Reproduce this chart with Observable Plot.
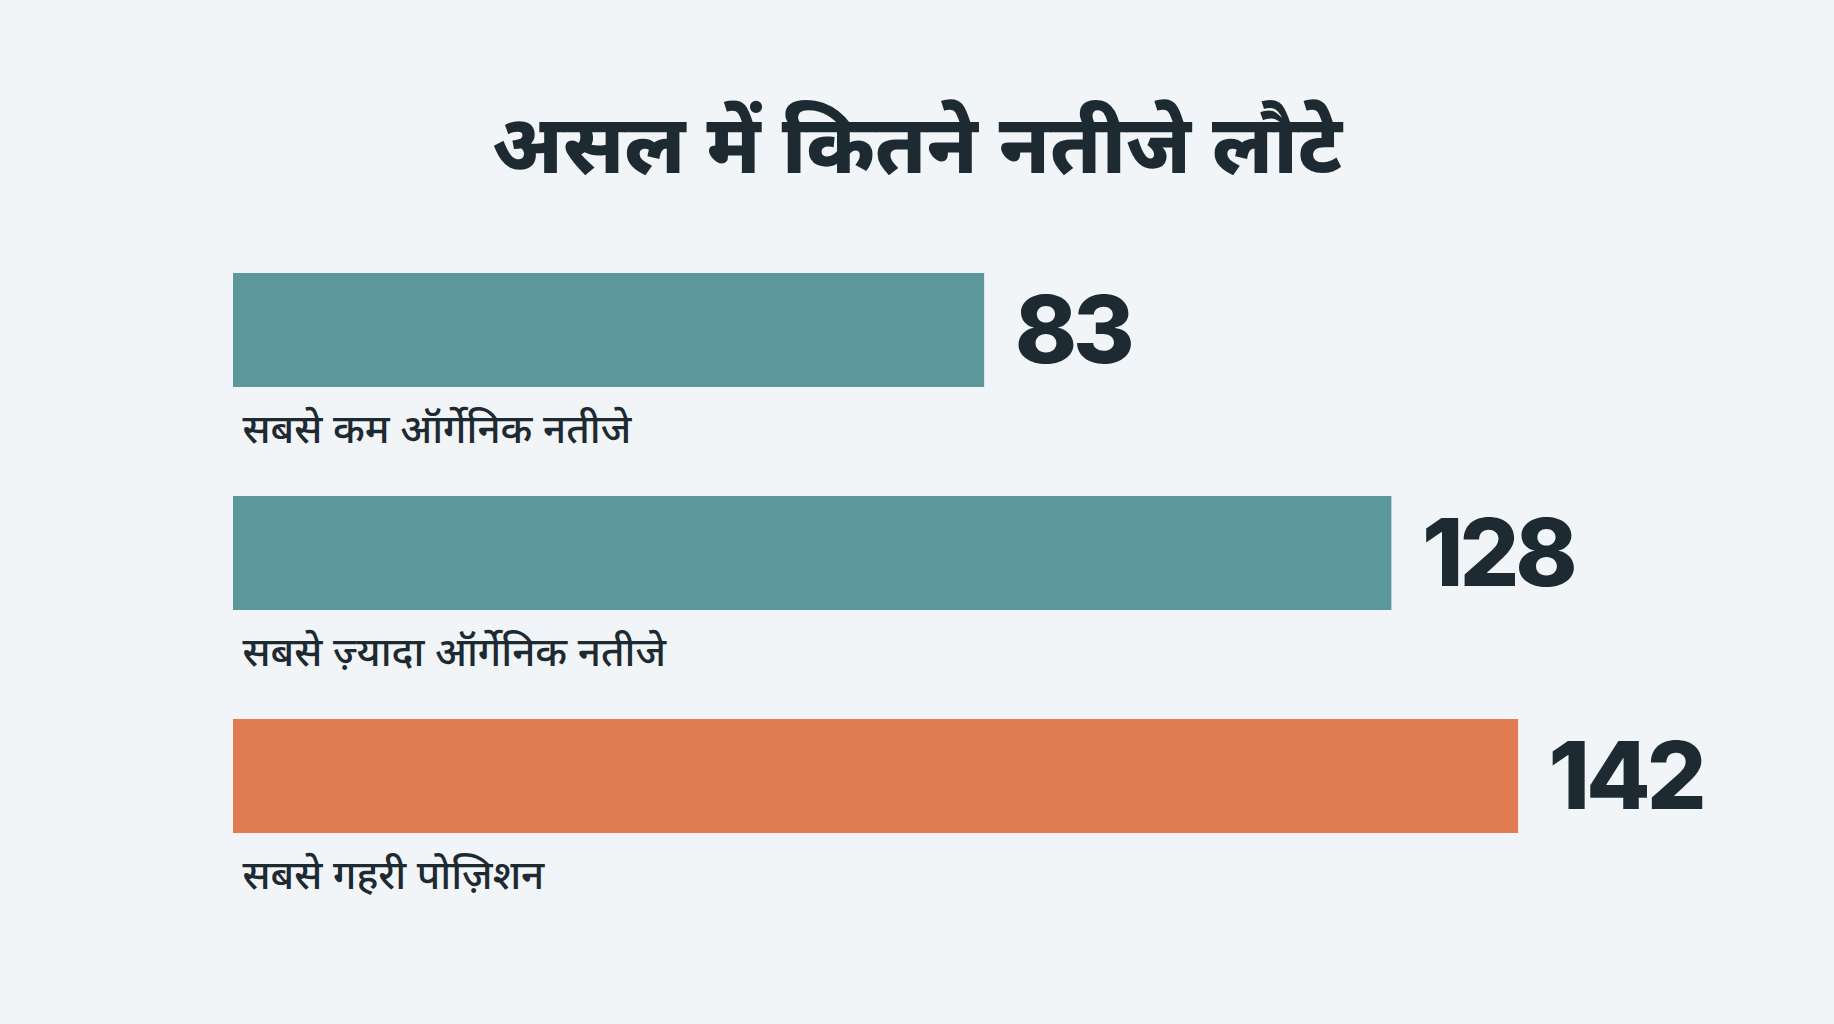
<!DOCTYPE html>
<html>
<head>
<meta charset="utf-8">
<script src="https://cdn.jsdelivr.net/npm/d3@7"></script>
<script src="https://cdn.jsdelivr.net/npm/@observablehq/plot@0.6"></script>
<style>
  html, body { margin: 0; padding: 0; background: #F2F5F7; }
  body { width: 1834px; height: 1024px; overflow: hidden; font-family: "Noto Sans Devanagari", "Noto Sans", sans-serif; }
  #title { margin: 0; height: 230px; box-sizing: border-box; padding-top: 113px; text-align: center;
           font-size: 81px; line-height: 1; font-weight: 800; color: #1E2A31; }
  #chart svg { display: block; }
  #chart .value-label text { letter-spacing: -4px; }
</style>
</head>
<body>
<h1 id="title">असल में कितने नतीजे लौटे</h1>
<div id="chart"></div>
<script>
const titleText = "असल में कितने नतीजे लौटे";
const categories = ["सबसे कम ऑर्गेनिक नतीजे", "सबसे ज़्यादा ऑर्गेनिक नतीजे", "सबसे गहरी पोज़िशन"];
const values = [83, 128, 142];

const data = categories.map((c, i) => ({category: c, value: values[i]}));
const teal = "#5C979C", orange = "#E07C52", ink = "#1E2A31";

const chart = Plot.plot({
  width: 1834,
  height: 794,
  marginLeft: 233,
  marginRight: 153,
  marginTop: 43,
  marginBottom: 191,
  style: {background: "transparent"},
  x: {domain: [0, 160], axis: null},
  y: {domain: categories, axis: null, paddingInner: 0.489, paddingOuter: 0},
  color: {domain: categories, range: [teal, teal, orange]},
  marks: [
    Plot.barX(data, {x: "value", y: "category", fill: "category"}),
    Plot.text(data, {
      x: "value", y: "category", text: d => String(d.value),
      textAnchor: "start", dx: 30, dy: 2, lineAnchor: "middle",
      fontSize: 94, fontWeight: 800, fill: ink,
      fontFamily: "Inter, Lato, sans-serif", className: "value-label"
    }),
    Plot.text(data, {
      x: 0, y: "category", text: "category",
      textAnchor: "start", dx: 9, dy: 112, lineAnchor: "bottom",
      fontSize: 40.5, fontWeight: 500, fill: ink,
      fontFamily: "'Noto Sans Devanagari', 'Noto Sans', sans-serif"
    })
  ]
});
document.getElementById("title").textContent = titleText;
document.getElementById("chart").append(chart);
</script>
</body>
</html>
